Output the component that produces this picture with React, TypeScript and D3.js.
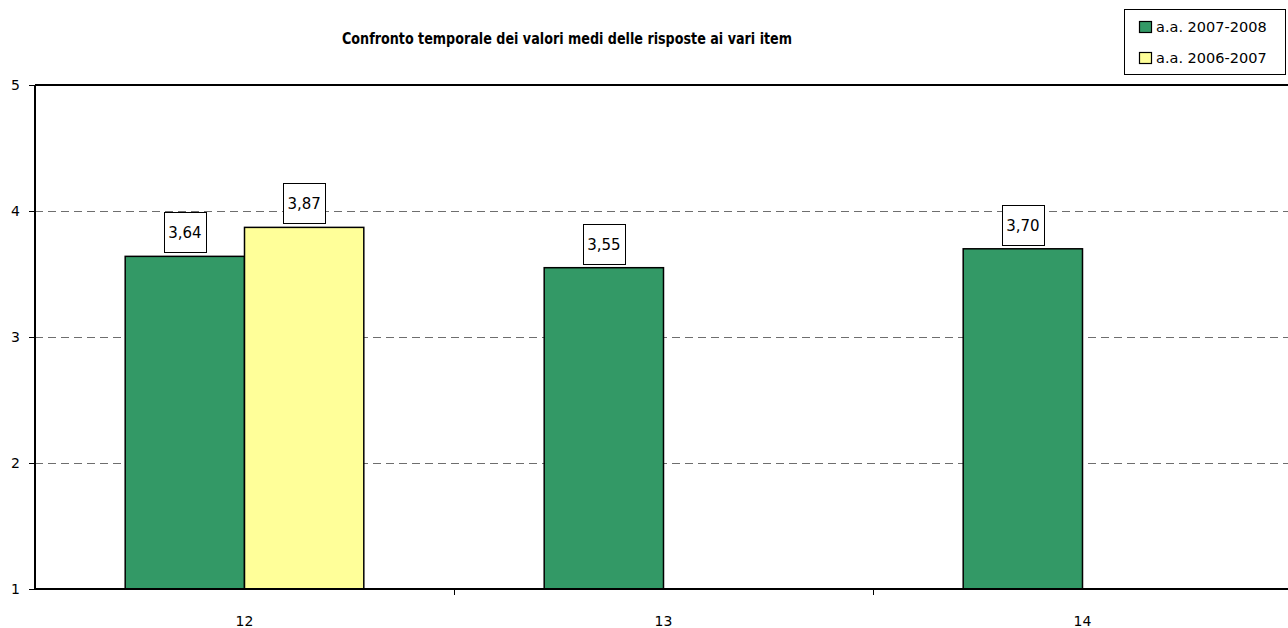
import React from "react";
import * as d3 from "d3";

const categories = ["12", "13", "14"];
const series2008 = [3.64, 3.55, 3.7];
const series2007: (number | null)[] = [3.87, null, null];
const seriesNames = ["a.a. 2007-2008", "a.a. 2006-2007"];
const seriesColors = ["#339966", "#FFFF99"];
const yTicks = [1, 2, 3, 4, 5];
const title = "Confronto temporale dei valori medi delle risposte ai vari item";

const W = 1288, H = 628;
const left = 35, right = 1292, top = 85, bottom = 589;

export default function App() {
  const x = d3.scaleBand<string>().domain(categories).range([left, right]).paddingInner(0).paddingOuter(0);
  const y = d3.scaleLinear().domain([1, 5]).range([bottom, top]);
  const bw = x.bandwidth();
  const inner = d3.scaleBand<number>().domain([0, 1]).range([0, bw]).paddingInner(0).paddingOuter(0.756);
  const fmt = (v: number) => v.toFixed(2).replace(".", ",");
  const data = [series2008, series2007];
  const font = "'DejaVu Sans', Verdana, sans-serif";

  return (
    <svg width={W} height={H} style={{ position: "absolute", left: 0, top: 0 }}>
      <rect width={W} height={H} fill="#fff" />
      <text x={567} y={44} textAnchor="middle" fontFamily="'DejaVu Sans', Arial, sans-serif" fontWeight="bold" fontSize={15} textLength={450} lengthAdjust="spacingAndGlyphs">{title}</text>
      {yTicks.slice(1, 4).map(t => (
        <line key={t} x1={left} x2={W} y1={y(t) + 0.5} y2={y(t) + 0.5} stroke="#6e6e6e" strokeDasharray="8,5" strokeWidth={1} />
      ))}
      {data.map((s, si) => s.map((v, ci) => v == null ? null : (
        <rect key={`${si}-${ci}`} x={(x(categories[ci]) as number) + (inner(si) as number)} y={y(v)}
          width={inner.bandwidth()} height={bottom - y(v)} fill={seriesColors[si]} stroke="#000" strokeWidth={1.5} />
      )))}
      <line x1={left} x2={W} y1={top} y2={top} stroke="#000" strokeWidth={2} />
      <line x1={left} x2={left} y1={top} y2={bottom} stroke="#000" strokeWidth={2} />
      <line x1={left} x2={W} y1={bottom} y2={bottom} stroke="#000" strokeWidth={2} />
      {yTicks.map(t => (
        <g key={t}>
          <line x1={29} x2={left} y1={y(t) + 0.5} y2={y(t) + 0.5} stroke="#000" />
          <text x={20} y={y(t) + 5} textAnchor="end" fontFamily={font} fontSize={14}>{t}</text>
        </g>
      ))}
      {categories.map((c, i) => (
        <g key={c}>
          {i > 0 && <line x1={(x(c) as number) + 0.5} x2={(x(c) as number) + 0.5} y1={bottom} y2={bottom + 6} stroke="#000" />}
          <text x={(x(c) as number) + bw / 2} y={626} textAnchor="middle" fontFamily={font} fontSize={14}>{c}</text>
        </g>
      ))}
      {data.map((s, si) => s.map((v, ci) => {
        if (v == null) return null;
        const cx = (x(categories[ci]) as number) + (inner(si) as number) + inner.bandwidth() / 2;
        const yb = y(v) - 4;
        return (
          <g key={`l${si}-${ci}`}>
            <rect x={Math.round(cx - 21) + 0.5} y={Math.round(yb - 40) + 0.5} width={42} height={40} fill="#fff" stroke="#000" strokeWidth={1} />
            <text x={cx} y={yb - 14} textAnchor="middle" fontFamily={font} fontSize={15}>{fmt(v)}</text>
          </g>
        );
      }))}
      <rect x={1124.5} y={9.5} width={161} height={65} fill="#fff" stroke="#000" strokeWidth={1} />
      {seriesNames.map((n, i) => (
        <g key={n}>
          <rect x={1139.5} y={21.5 + i * 31} width={12} height={11} fill={seriesColors[i]} stroke="#000" strokeWidth={1.2} />
          <text x={1156} y={32 + i * 31} fontFamily={font} fontSize={14.5}>{n}</text>
        </g>
      ))}
    </svg>
  );
}
